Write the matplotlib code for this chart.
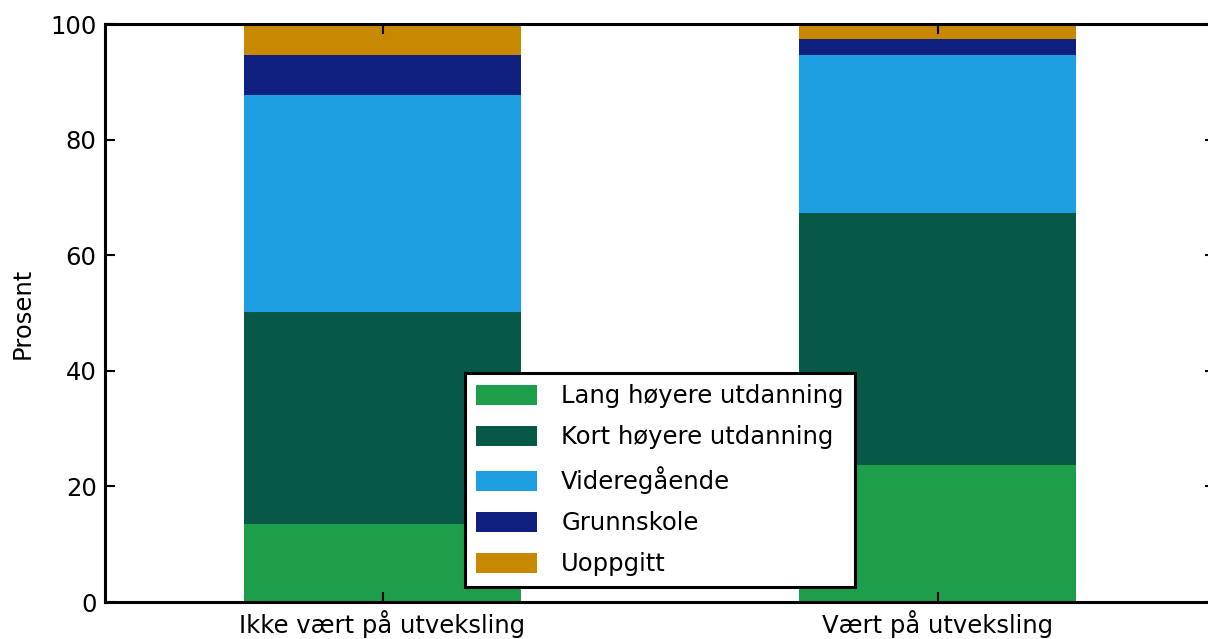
import matplotlib
matplotlib.use("Agg")
import matplotlib.pyplot as plt
import numpy as np

categories = ["Ikke vært på utveksling", "Vært på utveksling"]
series_names = ["Lang høyere utdanning", "Kort høyere utdanning", "Videregående", "Grunnskole", "Uoppgitt"]
lang = [13.5, 23.7]
kort = [36.7, 43.6]
videre = [37.5, 27.3]
grunn = [6.9, 2.8]
uopp = [5.4, 2.6]
colors = ["#1d9e4a", "#065946", "#1e9fe2", "#0f2080", "#c88800"]
yticks = [0, 20, 40, 60, 80, 100]

fs = 17.5
fig = plt.figure(figsize=(12.08, 6.39), dpi=100)
ax = fig.add_axes([105/1208, 37/639, (1215-105)/1208, (602-24)/639])

x = np.arange(len(categories))
bottom = np.zeros(len(categories))
for name, vals, c in zip(series_names, [lang, kort, videre, grunn, uopp], colors):
    ax.bar(x, vals, width=0.5, bottom=bottom, color=c, label=name, zorder=1)
    bottom += np.array(vals)

ax.set_xlim(-0.5, 1.5)
ax.set_ylim(0, 100)
ax.set_xticks(x)
ax.set_xticklabels(categories, fontsize=fs)
ax.set_yticks(yticks)
ax.set_yticklabels([str(t) for t in yticks], fontsize=fs)
ax.set_ylabel("Prosent", fontsize=fs, labelpad=11)
ax.tick_params(direction="in", length=7, width=1.5, top=True, right=True, pad=6)
for s in ax.spines.values():
    s.set_linewidth(2.2)

leg = ax.legend(loc="lower center", bbox_to_anchor=(0.5, 0.026), fontsize=fs,
                handlelength=2.5, handleheight=0.9, labelspacing=0.7, handletextpad=1.0,
                fancybox=False, framealpha=1, edgecolor="black", borderpad=0.45,
                borderaxespad=0)
leg.get_frame().set_linewidth(2.2)

fig.savefig("out.png", dpi=100)
